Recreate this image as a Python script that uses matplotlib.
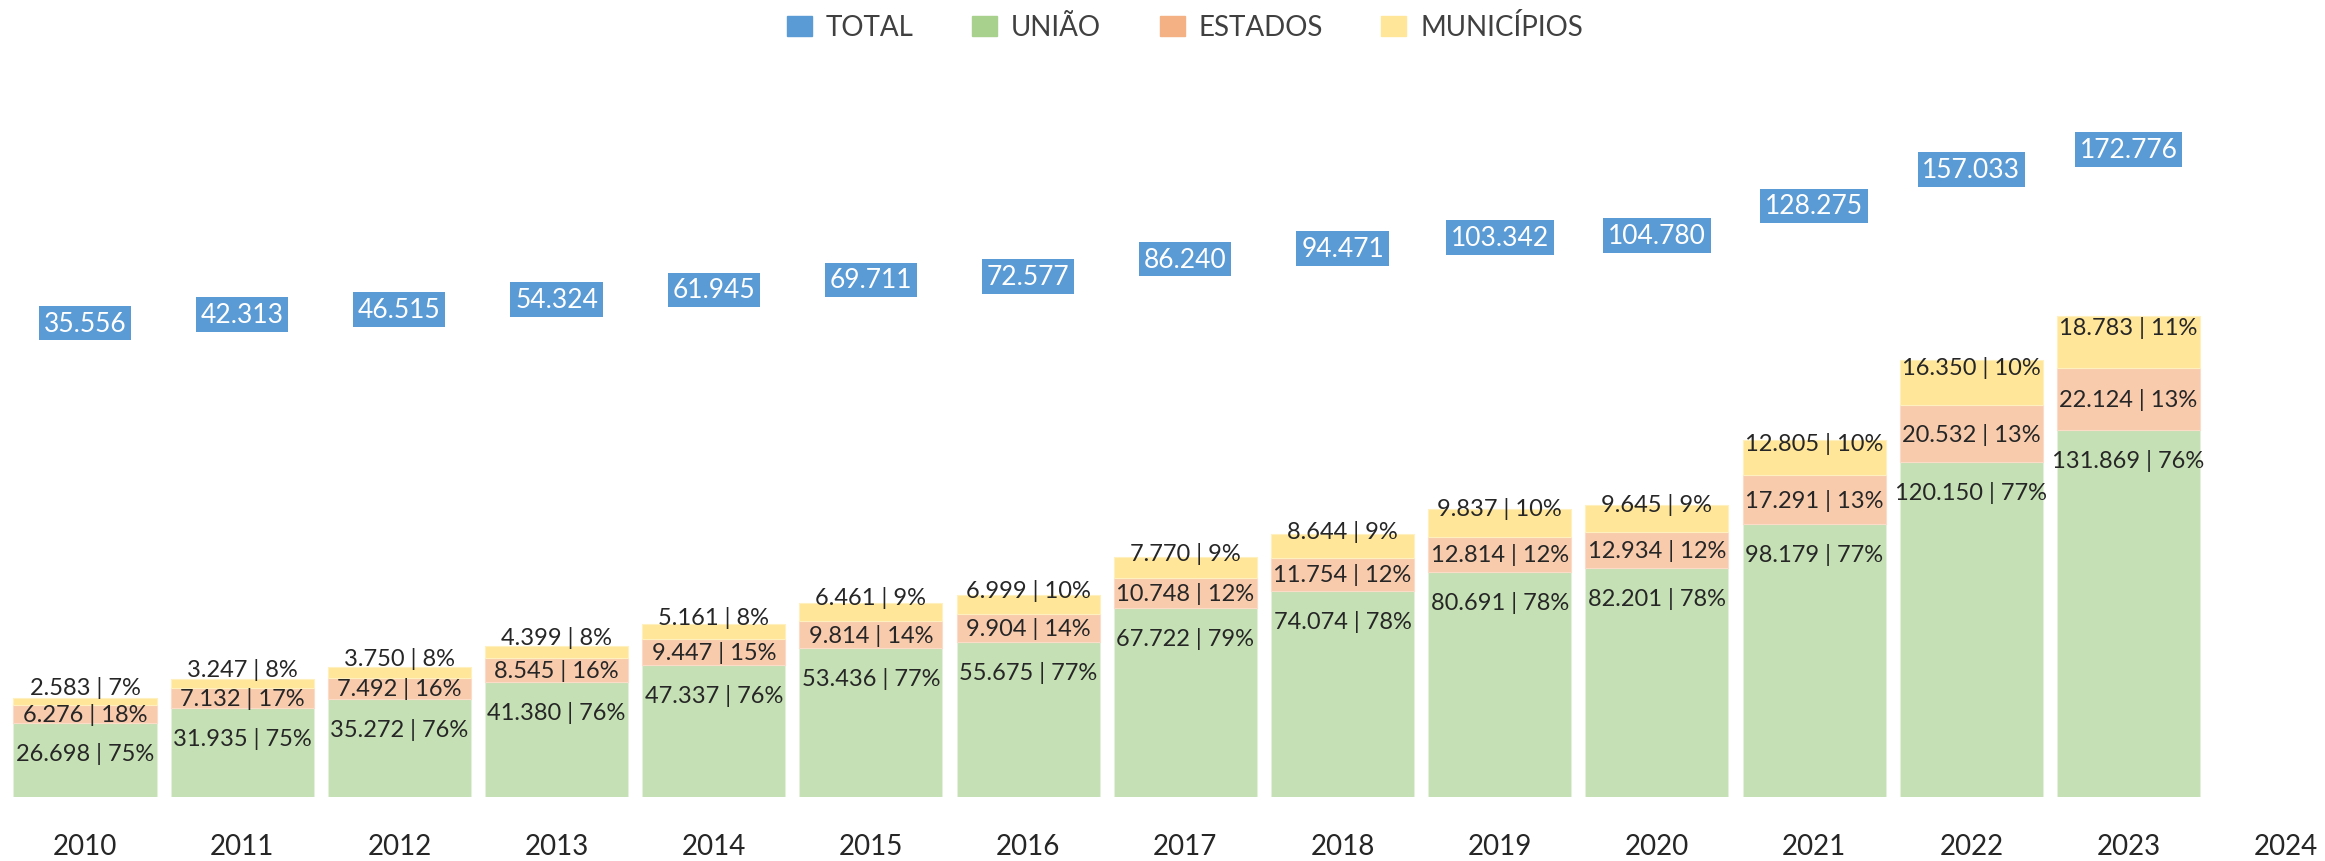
import matplotlib.pyplot as plt
from matplotlib.patches import Patch
import numpy as np

plt.rcParams['font.family'] = ['Lato', 'DejaVu Sans']

# dados (R$ milhões)
anos = ['2010', '2011', '2012', '2013', '2014', '2015', '2016', '2017',
        '2018', '2019', '2020', '2021', '2022', '2023', '2024']
uniao = [26698, 31935, 35272, 41380, 47337, 53436, 55675, 67722,
         74074, 80691, 82201, 98179, 120150, 131869]
estados = [6276, 7132, 7492, 8545, 9447, 9814, 9904, 10748,
           11754, 12814, 12934, 17291, 20532, 22124]
municipios = [2583, 3247, 3750, 4399, 5161, 6461, 6999, 7770,
              8644, 9837, 9645, 12805, 16350, 18783]
total = [35556, 42313, 46515, 54324, 61945, 69711, 72577, 86240,
         94471, 103342, 104780, 128275, 157033, 172776]

c_total = '#5B9BD5'
c_uniao, c_est, c_mun = '#C5E0B4', '#F8CBAD', '#FFE699'
leg_uniao, leg_est, leg_mun = '#A9D18E', '#F4B183', '#FFE699'
txt = '#262626'


def fmt(v):
    return f'{v:,}'.replace(',', '.')


W, H = 2325, 862
fig = plt.figure(figsize=(W / 100, H / 100), dpi=100)
ax = fig.add_axes([6.4 / W, 64 / H, (W - 6.4) / W, 738 / H])

x = np.arange(len(uniao))
u = np.array(uniao)
e = np.array(estados)
m = np.array(municipios)
t = np.array(total)

ax.bar(x, u, width=0.91, color=c_uniao, edgecolor='#E4F0DC', linewidth=0.8)
ax.bar(x, e, width=0.91, bottom=u, color=c_est, edgecolor='#FBDCC8', linewidth=0.8)
ax.bar(x, m, width=0.91, bottom=u + e, color=c_mun, edgecolor='#FFF0BF', linewidth=0.8)

px = 0.72  # pontos por pixel
for i in range(len(x)):
    pu = round(100 * u[i] / t[i])
    pe = round(100 * e[i] / t[i])
    pm = round(100 * m[i] / t[i])
    ax.annotate(f'{fmt(u[i])} | {pu}%', (x[i], u[i]), xytext=(0, -30 * px),
                textcoords='offset points', ha='center', va='center',
                fontsize=17, color=txt)
    ax.annotate(f'{fmt(e[i])} | {pe}%', (x[i], u[i] + e[i] / 2), xytext=(0, 0),
                textcoords='offset points', ha='center', va='center',
                fontsize=17, color=txt)
    ax.annotate(f'{fmt(m[i])} | {pm}%', (x[i], u[i] + e[i] + m[i] / 2),
                xytext=(0, 15 * px), textcoords='offset points',
                ha='center', va='center', fontsize=17, color=txt)

ax.set_xlim(-0.5, 14.25)
ax.set_ylim(0, 265000)
ax.set_xticks(np.arange(len(anos)))
ax.set_xticklabels(anos, fontsize=20, color=txt)
ax.tick_params(axis='x', length=0, pad=26)
ax.set_yticks([])
for s in ax.spines.values():
    s.set_visible(False)

# eixo secundário para o TOTAL
ax2 = ax.twinx()
ax2.set_ylim(-339000, 244400)
ax2.plot(x, t, alpha=0)
for i in range(len(x)):
    ax2.text(x[i], t[i], fmt(t[i]), ha='center', va='center', fontsize=19,
             color='white',
             bbox=dict(boxstyle='square,pad=0.18', fc=c_total, ec='none'))
ax2.set_yticks([])
for s in ax2.spines.values():
    s.set_visible(False)

handles = [Patch(color=c_total), Patch(color=leg_uniao),
           Patch(color=leg_est), Patch(color=leg_mun)]
fig.legend(handles, ['TOTAL', 'UNIÃO', 'ESTADOS', 'MUNICÍPIOS'],
           loc='center', bbox_to_anchor=(1185 / W, 1 - 28 / H), ncol=4,
           frameon=False, fontsize=20, labelcolor='#404040',
           handlelength=0.9, handleheight=0.75, handletextpad=0.5,
           columnspacing=2.1)

fig.savefig('out.png', dpi=100)
